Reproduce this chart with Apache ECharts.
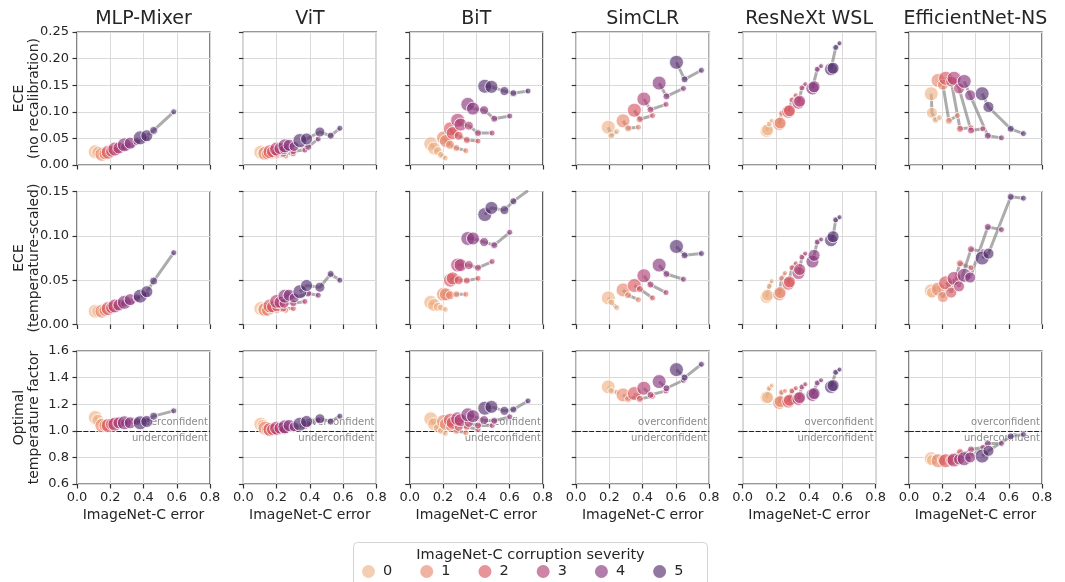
<!DOCTYPE html>
<html>
<head>
<meta charset="utf-8">
<script src="https://cdn.jsdelivr.net/npm/echarts@6/dist/echarts.min.js"></script>
<style>
  html, body { margin: 0; padding: 0; background: #fff; }
  #chart { width: 1065px; height: 582px; }
</style>
</head>
<body>
<div id="chart"></div>
<script>
// ---- labels ----
const families = ['MLP-Mixer', 'ViT', 'BiT', 'SimCLR', 'ResNeXt WSL', 'EfficientNet-NS'];
const severities = ['0', '1', '2', '3', '4', '5'];
const metricNames = ['ECE\n(no recalibration)', 'ECE\n(temperature-scaled)', 'Optimal\ntemperature factor'];
const xTickLabels = ['0.0', '0.2', '0.4', '0.6', '0.8'];
const yTickLabels = [
  ['0.00', '0.05', '0.10', '0.15', '0.20', '0.25'],
  ['0.00', '0.05', '0.10', '0.15'],
  ['0.6', '0.8', '1.0', '1.2', '1.4', '1.6']
];
const severityColors = [
  'rgba(239,179,134,0.8)', 'rgba(231,136,109,0.8)', 'rgba(216,86,96,0.8)',
  'rgba(176,62,116,0.8)', 'rgba(134,51,124,0.8)', 'rgba(81,44,110,0.8)'
];

// ---- MLP-Mixer (rows: severity 0..5, columns: model, largest first) ----
const mixerSizes = [14, 12, 8, 6];
const mixerError = [
  [0.110, 0.125, 0.145, 0.165],
  [0.150, 0.168, 0.192, 0.220],
  [0.188, 0.208, 0.235, 0.268],
  [0.228, 0.252, 0.285, 0.330],
  [0.285, 0.320, 0.360, 0.420],
  [0.380, 0.420, 0.461, 0.582]
];
const mixerEce = [
  [0.025, 0.024, 0.022, 0.021],
  [0.020, 0.021, 0.022, 0.024],
  [0.024, 0.026, 0.027, 0.030],
  [0.030, 0.032, 0.034, 0.037],
  [0.038, 0.041, 0.044, 0.050],
  [0.051, 0.055, 0.065, 0.100]
];
const mixerEceTs = [
  [0.015, 0.015, 0.016, 0.016],
  [0.015, 0.016, 0.017, 0.018],
  [0.018, 0.019, 0.020, 0.022],
  [0.021, 0.022, 0.024, 0.026],
  [0.025, 0.028, 0.030, 0.034],
  [0.032, 0.037, 0.049, 0.081]
];
const mixerTemp = [
  [1.10, 1.08, 1.07, 1.06],
  [1.04, 1.04, 1.05, 1.04],
  [1.04, 1.05, 1.05, 1.06],
  [1.05, 1.06, 1.06, 1.07],
  [1.06, 1.06, 1.07, 1.08],
  [1.06, 1.07, 1.11, 1.15]
];

// ---- ViT ----
const vitSizes = [14, 12, 10, 7, 6];
const vitError = [
  [0.105, 0.118, 0.135, 0.160, 0.200],
  [0.130, 0.145, 0.165, 0.200, 0.255],
  [0.160, 0.175, 0.200, 0.240, 0.300],
  [0.200, 0.220, 0.245, 0.300, 0.370],
  [0.250, 0.275, 0.305, 0.390, 0.450],
  [0.340, 0.380, 0.460, 0.525, 0.580]
];
const vitEce = [
  [0.024, 0.022, 0.020, 0.018, 0.016],
  [0.022, 0.021, 0.020, 0.018, 0.017],
  [0.025, 0.025, 0.024, 0.021, 0.021],
  [0.030, 0.031, 0.029, 0.026, 0.028],
  [0.036, 0.037, 0.035, 0.034, 0.049],
  [0.046, 0.049, 0.062, 0.055, 0.069]
];
const vitEceTs = [
  [0.018, 0.017, 0.016, 0.016, 0.017],
  [0.017, 0.016, 0.017, 0.016, 0.016],
  [0.021, 0.020, 0.020, 0.018, 0.018],
  [0.026, 0.025, 0.024, 0.024, 0.026],
  [0.032, 0.033, 0.030, 0.035, 0.033],
  [0.037, 0.044, 0.042, 0.057, 0.050]
];
const vitTemp = [
  [1.05, 1.04, 1.03, 1.02, 1.01],
  [1.02, 1.01, 1.01, 1.00, 1.00],
  [1.01, 1.01, 1.00, 1.00, 1.01],
  [1.02, 1.02, 1.01, 1.02, 1.03],
  [1.03, 1.04, 1.03, 1.05, 1.08],
  [1.05, 1.07, 1.09, 1.07, 1.11]
];

// ---- BiT ----
const bitSizes = [14, 13, 9, 7, 6];
const bitError = [
  [0.126, 0.146, 0.168, 0.187, 0.213],
  [0.203, 0.217, 0.242, 0.280, 0.337],
  [0.244, 0.258, 0.294, 0.343, 0.410],
  [0.288, 0.305, 0.355, 0.410, 0.495],
  [0.349, 0.380, 0.447, 0.508, 0.601],
  [0.451, 0.491, 0.569, 0.623, 0.711]
];
const bitEce = [
  [0.040, 0.031, 0.026, 0.019, 0.013],
  [0.051, 0.045, 0.038, 0.032, 0.027],
  [0.068, 0.060, 0.055, 0.047, 0.045],
  [0.084, 0.076, 0.074, 0.060, 0.060],
  [0.114, 0.106, 0.103, 0.087, 0.092],
  [0.148, 0.147, 0.139, 0.135, 0.139]
];
const bitEceTs = [
  [0.025, 0.022, 0.020, 0.019, 0.017],
  [0.034, 0.034, 0.033, 0.034, 0.034],
  [0.050, 0.052, 0.050, 0.0495, 0.052],
  [0.067, 0.067, 0.067, 0.064, 0.071],
  [0.097, 0.097, 0.093, 0.0895, 0.104],
  [0.124, 0.1315, 0.129, 0.139, 0.151]
];
const bitTemp = [
  [1.09, 1.05, 1.02, 1.00, 0.98],
  [1.07, 1.05, 1.03, 1.00, 0.985],
  [1.08, 1.06, 1.03, 1.03, 1.01],
  [1.09, 1.08, 1.06, 1.04, 1.04],
  [1.12, 1.11, 1.08, 1.075, 1.105],
  [1.17, 1.18, 1.15, 1.16, 1.225]
];

// ---- SimCLR ----
const simclrSizes = [14, 7, 6];
const simclrError = [
  [0.193, 0.211, 0.244],
  [0.282, 0.312, 0.374],
  [0.350, 0.383, 0.459],
  [0.407, 0.447, 0.540],
  [0.499, 0.543, 0.645],
  [0.603, 0.652, 0.753]
];
const simclrEce = [
  [0.071, 0.055, 0.063],
  [0.083, 0.069, 0.071],
  [0.103, 0.086, 0.093],
  [0.124, 0.104, 0.114],
  [0.154, 0.129, 0.144],
  [0.193, 0.161, 0.178]
];
const simclrEceTs = [
  [0.030, 0.025, 0.019],
  [0.039, 0.033, 0.028],
  [0.044, 0.040, 0.030],
  [0.055, 0.045, 0.036],
  [0.067, 0.057, 0.051],
  [0.088, 0.078, 0.080]
];
const simclrTemp = [
  [1.33, 1.30, 1.29],
  [1.27, 1.24, 1.26],
  [1.28, 1.24, 1.26],
  [1.32, 1.27, 1.30],
  [1.37, 1.32, 1.38],
  [1.46, 1.40, 1.50]
];

// ---- ResNeXt WSL ----
const wslSizes = [13, 12, 6, 5];
const wslError = [
  [0.144, 0.150, 0.160, 0.175],
  [0.220, 0.226, 0.234, 0.255],
  [0.275, 0.282, 0.297, 0.320],
  [0.336, 0.343, 0.357, 0.377],
  [0.420, 0.430, 0.449, 0.472],
  [0.532, 0.544, 0.560, 0.583]
];
const wslEce = [
  [0.064, 0.066, 0.077, 0.083],
  [0.077, 0.079, 0.097, 0.104],
  [0.100, 0.102, 0.122, 0.131],
  [0.117, 0.120, 0.145, 0.152],
  [0.144, 0.147, 0.180, 0.186],
  [0.180, 0.182, 0.221, 0.229]
];
const wslEceTs = [
  [0.031, 0.033, 0.043, 0.049],
  [0.034, 0.036, 0.052, 0.058],
  [0.046, 0.048, 0.064, 0.069],
  [0.058, 0.062, 0.076, 0.080],
  [0.071, 0.078, 0.093, 0.096],
  [0.095, 0.099, 0.118, 0.121]
];
const wslTemp = [
  [1.25, 1.25, 1.32, 1.34],
  [1.21, 1.22, 1.29, 1.30],
  [1.22, 1.23, 1.30, 1.32],
  [1.24, 1.25, 1.33, 1.35],
  [1.27, 1.28, 1.36, 1.38],
  [1.33, 1.34, 1.44, 1.46]
];

// ---- EfficientNet-NS ----
const effSizes = [14, 11, 7, 6];
const effError = [
  [0.134, 0.138, 0.159, 0.183],
  [0.175, 0.204, 0.240, 0.291],
  [0.220, 0.254, 0.307, 0.373],
  [0.271, 0.301, 0.373, 0.444],
  [0.332, 0.368, 0.474, 0.556],
  [0.440, 0.478, 0.612, 0.688]
];
const effEce = [
  [0.134, 0.098, 0.085, 0.089],
  [0.159, 0.151, 0.083, 0.093],
  [0.163, 0.157, 0.068, 0.070],
  [0.163, 0.144, 0.065, 0.068],
  [0.157, 0.131, 0.055, 0.051],
  [0.134, 0.109, 0.068, 0.059]
];
const effEceTs = [
  [0.038, 0.036, 0.040, 0.042],
  [0.040, 0.031, 0.046, 0.052],
  [0.047, 0.036, 0.069, 0.064],
  [0.052, 0.043, 0.085, 0.082],
  [0.0555, 0.053, 0.110, 0.107],
  [0.075, 0.080, 0.144, 0.1425]
];
const effTemp = [
  [0.79, 0.78, 0.80, 0.80],
  [0.775, 0.78, 0.80, 0.82],
  [0.775, 0.78, 0.84, 0.83],
  [0.78, 0.785, 0.86, 0.875],
  [0.79, 0.80, 0.905, 0.905],
  [0.81, 0.85, 0.958, 0.973]
];

// ---- assemble ----
const familyData = [
  { sizes: mixerSizes, error: mixerError, metrics: [mixerEce, mixerEceTs, mixerTemp] },
  { sizes: vitSizes, error: vitError, metrics: [vitEce, vitEceTs, vitTemp] },
  { sizes: bitSizes, error: bitError, metrics: [bitEce, bitEceTs, bitTemp] },
  { sizes: simclrSizes, error: simclrError, metrics: [simclrEce, simclrEceTs, simclrTemp] },
  { sizes: wslSizes, error: wslError, metrics: [wslEce, wslEceTs, wslTemp] },
  { sizes: effSizes, error: effError, metrics: [effEce, effEceTs, effTemp] }
];

const FONT = 'DejaVu Sans';
const TEXT = '#262626';
const colLeft = [77, 243.4, 409.8, 576.2, 742.6, 909];
const rowTop = [32, 191.5, 351];
const PW = 133, PH = 133;
const yRange = yTickLabels.map(t => ({ min: +t[0], max: +t[t.length - 1], step: +t[1] - +t[0] }));

const grids = [], xAxes = [], yAxes = [], series = [];

for (let r = 0; r < 3; r++) {
  for (let c = 0; c < 6; c++) {
    const idx = r * 6 + c;
    grids.push({
      left: colLeft[c], top: rowTop[r], width: PW, height: PH,
      show: true, borderColor: '#333', borderWidth: 1.2, backgroundColor: 'transparent'
    });
    xAxes.push({
      gridIndex: idx, type: 'value', min: 0, max: 0.8, interval: 0.2,
      axisLine: { show: false },
      axisTick: { show: true, length: 4.5, lineStyle: { color: '#333', width: 1.2 } },
      axisLabel: { show: r === 2, fontSize: 13, color: TEXT, margin: 7, fontFamily: FONT,
        formatter: v => xTickLabels[Math.round(v / 0.2)] },
      splitLine: { show: true, lineStyle: { color: '#dadada', width: 1 } },
      name: r === 2 ? 'ImageNet-C error' : '',
      nameLocation: 'middle', nameGap: 24, nameMoveOverlap: false,
      nameTextStyle: { fontSize: 14, color: TEXT, fontFamily: FONT }
    });
    const yr = yRange[r];
    yAxes.push({
      gridIndex: idx, type: 'value', min: yr.min, max: yr.max, interval: yr.step,
      axisLine: { show: false },
      axisTick: { show: true, length: 4.5, lineStyle: { color: '#333', width: 1.2 } },
      axisLabel: { show: c === 0, fontSize: 13, color: TEXT, margin: 8, fontFamily: FONT,
        formatter: v => yTickLabels[r][Math.round((v - yr.min) / yr.step)] },
      splitLine: { show: true, lineStyle: { color: '#dadada', width: 1 } },
      name: c === 0 ? metricNames[r] : '',
      nameLocation: 'middle', nameRotate: 90, nameGap: 35, nameMoveOverlap: false,
      nameTextStyle: { fontSize: 14, lineHeight: 15, color: TEXT, fontFamily: FONT, align: 'center' }
    });

    const fam = familyData[c];
    const metric = fam.metrics[r];

    // grey links between model sizes of the same severity
    for (let s = 0; s < 6; s++) {
      const pts = fam.error[s].map((x, i) => [x, metric[s][i]]);
      series.push({
        type: 'line', name: 'link' + s, xAxisIndex: idx, yAxisIndex: idx,
        data: pts, symbol: 'none', silent: true, z: 2,
        lineStyle: { color: 'rgba(128,128,128,0.65)', width: 3 }
      });
    }
    // markers, sized by model
    for (let s = 0; s < 6; s++) {
      const pts = fam.error[s].map((x, i) => [x, metric[s][i]]);
      const sizes = fam.sizes;
      series.push({
        type: 'scatter', name: severities[s], xAxisIndex: idx, yAxisIndex: idx,
        data: pts, z: 3,
        symbolSize: (v, p) => sizes[p.dataIndex],
        itemStyle: { color: severityColors[s], borderColor: '#fff', borderWidth: 1 }
      });
    }
    // reference line at temperature factor 1
    if (r === 2) {
      series.push({
        type: 'line', name: 'ref', xAxisIndex: idx, yAxisIndex: idx, data: [], z: 1,
        markLine: {
          silent: true, symbol: ['none', 'none'], z: 1,
          lineStyle: { color: '#222', width: 1.2, type: [4.6, 2] },
          label: { color: '#8a8a8a', fontSize: 10, fontFamily: FONT, distance: [2, 3] },
          data: [
            { yAxis: 1.0, label: { formatter: 'overconfident', position: 'insideEndTop' } },
            { yAxis: 1.0, label: { formatter: 'underconfident', position: 'insideEndBottom' } }
          ]
        }
      });
    }
  }
}

const graphics = families.map((f, c) => ({
  type: 'text', x: colLeft[c] + PW / 2, y: 19,
  style: { text: f, fontSize: 19, fontFamily: FONT, fill: TEXT, align: 'center', verticalAlign: 'middle' }
}));
graphics.push({
  type: 'rect', z: -1,
  shape: { x: 353.5, y: 542.5, width: 354, height: 60, r: 4 },
  style: { fill: '#fff', stroke: '#d4d4d4', lineWidth: 1 }
});
graphics.push({
  type: 'text', x: 530.5, y: 555,
  style: { text: 'ImageNet-C corruption severity', fontSize: 14.5, fontFamily: FONT, fill: TEXT,
    align: 'center', verticalAlign: 'middle' }
});

const chart = echarts.init(document.getElementById('chart'));
chart.setOption({
  animation: false,
  textStyle: { fontFamily: FONT },
  grid: grids,
  xAxis: xAxes,
  yAxis: yAxes,
  graphic: graphics,
  legend: {
    data: severities.map((s, i) => ({ name: s, itemStyle: { color: severityColors[i], borderWidth: 0 } })),
    left: 362, top: 564, padding: 0, orient: 'horizontal',
    icon: 'circle', itemWidth: 19, itemHeight: 13, itemGap: 28,
    textStyle: { fontSize: 14.5, color: TEXT, fontFamily: FONT }
  },
  series: series
});
</script>
</body>
</html>
